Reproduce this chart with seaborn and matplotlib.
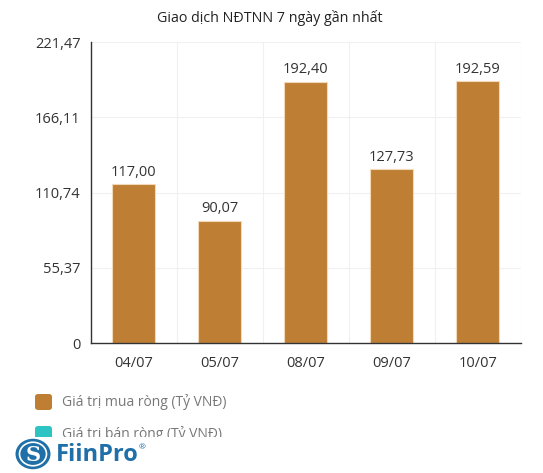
import numpy as np
import pandas as pd
import seaborn as sns
import matplotlib.pyplot as plt
from matplotlib.patches import FancyBboxPatch, Circle, Rectangle

days = ["04/07", "05/07", "08/07", "09/07", "10/07"]
net_buy = [117.00, 90.07, 192.40, 127.73, 192.59]
y_ticks = [0, 55.37, 110.74, 166.11, 221.47]
title = "Giao dịch NĐTNN 7 ngày gần nhất"
legend_labels = ["Giá trị mua ròng (Tỷ VNĐ)", "Giá trị bán ròng (Tỷ VNĐ)"]
buy_color = "#BE7F35"
sell_color = "#2EC4C4"

def fmt(v):
    if v == 0:
        return "0"
    return f"{v:.2f}".replace(".", ",")

sns.set_style("white")
plt.rcParams['font.family'] = ['Open Sans', 'DejaVu Sans']

df = pd.DataFrame({"day": days, "value": net_buy})

fig = plt.figure(figsize=(5.43, 4.73), dpi=100)
ax = fig.add_axes([0.1667, 0.2748, 0.7928, 0.6364])

sns.barplot(data=df, x="day", y="value", color=buy_color, width=0.5,
            saturation=1, edgecolor="#F3D9B8", linewidth=0.8, ax=ax)

ax.set_ylim(0, y_ticks[-1])
ax.set_xlim(-0.5, len(days) - 0.5)
ax.set_yticks(y_ticks)
ax.set_yticklabels([fmt(v) for v in y_ticks])
ax.set_xticks(range(len(days)))
ax.set_xticks(np.arange(-0.5, len(days), 1.0), minor=True)
ax.tick_params(axis="x", which="major", length=0, pad=9, labelsize=10.5, colors="#333333")
ax.tick_params(axis="x", which="minor", length=6, width=1, color="#333333", direction="out")
ax.tick_params(axis="y", length=0, pad=7, labelsize=10.5, colors="#333333")
ax.set_xlabel("")
ax.set_ylabel("")

ax.grid(False)
ax.grid(axis="y", which="major", color="#F0F0F0", linewidth=0.8)
ax.grid(axis="x", which="minor", color="#F0F0F0", linewidth=0.8)
ax.set_axisbelow(True)

for s in ["top", "right"]:
    ax.spines[s].set_visible(False)
for s in ["left", "bottom"]:
    ax.spines[s].set_color("#333333")
    ax.spines[s].set_linewidth(1)

for i, v in enumerate(net_buy):
    ax.annotate(fmt(v), (i, v), xytext=(0, 3), textcoords="offset points",
                ha="center", va="bottom", fontsize=10.5, color="#333333")

fig.text(0.497, 0.963, title, ha="center", va="center", fontsize=10.3, color="#222222")

# legend
W, H = 543, 473
def fx(px):
    return px / W
def fy(py):
    return 1 - py / H

for k, (lab, col) in enumerate(zip(legend_labels, [buy_color, sell_color])):
    yc = 402 + k * 32
    fig.patches.append(FancyBboxPatch((fx(35), fy(yc + 8)), fx(17), 16 / H,
                                      boxstyle="round,pad=0,rounding_size=0.006",
                                      transform=fig.transFigure, facecolor=col,
                                      edgecolor="none"))
    fig.text(fx(62), fy(yc), lab, ha="left", va="center", fontsize=10, color="#777777")

# logo covers the bottom of the legend
fig.patches.append(Rectangle((0, 0), 1, fy(437), transform=fig.transFigure,
                             facecolor="white", edgecolor="none", zorder=5))
fig.patches.append(Circle((fx(33), fy(454)), 17.5 / W, transform=fig.transFigure,
                          facecolor="#1F6FA8", edgecolor="none", zorder=6))
fig.patches.append(Circle((fx(33), fy(454)), 13.5 / W, transform=fig.transFigure,
                          facecolor="none", edgecolor="white", linewidth=1.2, zorder=7))
fig.text(fx(33), fy(455), "S", ha="center", va="center", fontsize=15,
         color="white", fontweight="bold", family="DejaVu Serif", zorder=8)
fig.text(fx(56), fy(455), "FiinPro", ha="left", va="center", fontsize=17,
         color="#1F6FA8", fontweight="bold", zorder=8)
fig.text(fx(139), fy(448), "®", ha="left", va="center", fontsize=6,
         color="#1F6FA8", zorder=8)

fig.savefig("out.png", dpi=100)
